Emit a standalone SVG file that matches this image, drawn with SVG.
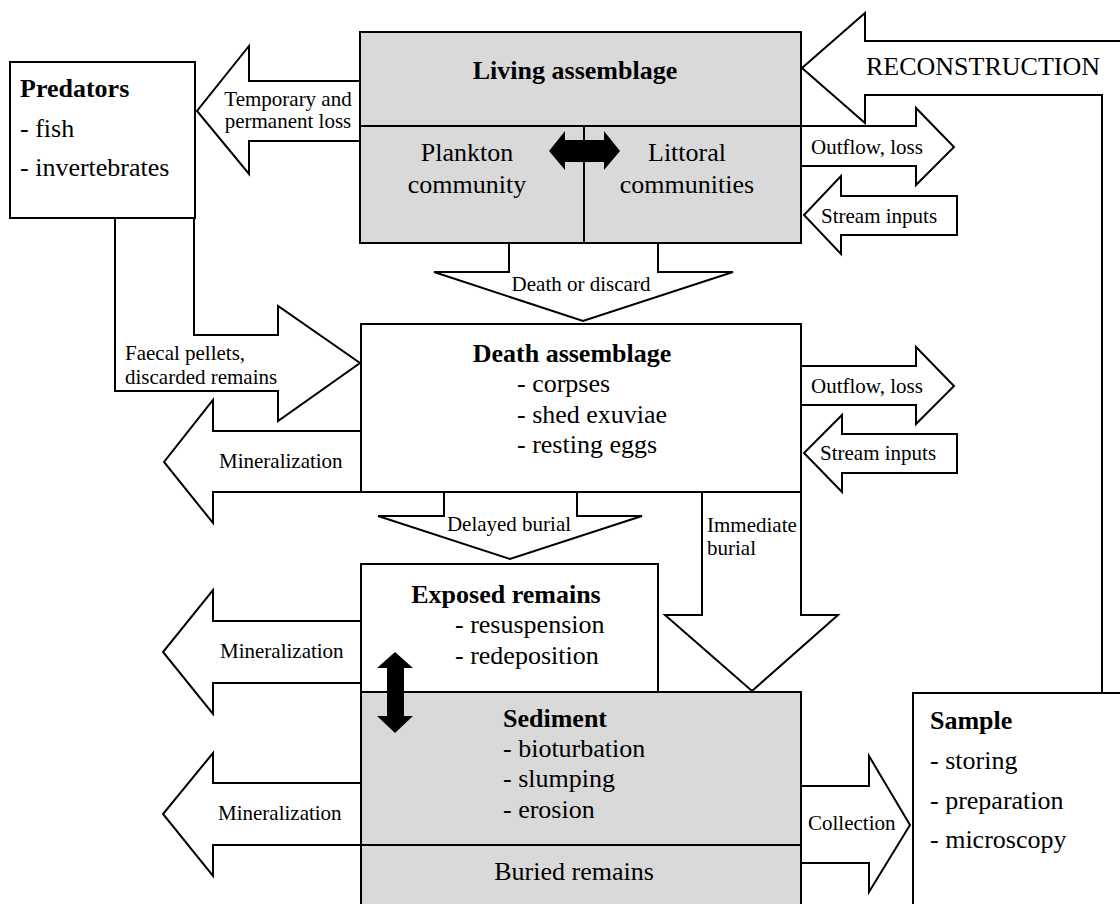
<svg xmlns="http://www.w3.org/2000/svg" width="1120" height="904" viewBox="0 0 1120 904">
<style>
  .box { stroke: #000; stroke-width: 2; }
  .gray { fill: #d9d9d9; }
  .white { fill: #fff; }
  .ln { stroke: #000; stroke-width: 2; fill: none; }
  .arr { fill: #fff; stroke: #000; stroke-width: 2; stroke-linejoin: miter; }
  .dbl { fill: #000; stroke: none; }
  .t { font-family: "Liberation Serif", "Times New Roman", serif; font-size: 26px; fill: #000; }
  .b { font-weight: bold; }
  .s { font-family: "Liberation Serif", "Times New Roman", serif; font-size: 21px; fill: #000; }
  .m { text-anchor: middle; }
</style>
<rect x="0" y="0" width="1120" height="904" fill="#fff"/>

<g id="connectors">
  <!-- Reconstruction (Sample -> Living) -->
  <polygon class="arr" points="1130,41 865,41 865,13 802,68 865,123 865,95 1102,95 1102,693 1130,693"/>
  <text class="t" x="866" y="75">RECONSTRUCTION</text>
  <!-- Living -> Predators -->
  <polygon class="arr" points="360,81 249,81 249,46 197,111 249,174 249,141 360,141"/>
  <text class="s m" x="288" y="106">Temporary and</text>
  <text class="s m" x="288" y="128">permanent loss</text>
  <!-- Living outflow / inputs -->
  <polygon class="arr" points="801,126 916,126 916,108 954,147 916,185 916,166 801,166"/>
  <text class="s" x="811" y="154">Outflow, loss</text>
  <polygon class="arr" points="957,196 841,196 841,176 804,215 841,254 841,235 957,235"/>
  <text class="s" x="821" y="223">Stream inputs</text>
  <!-- Living -> Death -->
  <polygon class="arr" points="509,243 658,243 658,272 733,272 583,321 434,272 509,272"/>
  <text class="s m" x="581" y="291">Death or discard</text>
  <!-- Predators -> Death -->
  <polygon class="arr" points="115,218 194,218 194,335 278,335 278,306 360,363 278,421 278,391 115,391"/>
  <text class="s" x="125" y="360">Faecal pellets,</text>
  <text class="s" x="125" y="384">discarded remains</text>
  <!-- Death outflow / inputs -->
  <polygon class="arr" points="801,366 916,366 916,347 954,386 916,424 916,405 801,405"/>
  <text class="s" x="811" y="393">Outflow, loss</text>
  <polygon class="arr" points="957,434 842,434 842,415 804,453 842,492 842,473 957,473"/>
  <text class="s" x="820" y="460">Stream inputs</text>
  <!-- Mineralization arrows -->
  <polygon class="arr" points="361,431 213,431 213,400 164,462 213,523 213,492 361,492"/>
  <text class="s" x="219" y="468">Mineralization</text>
  <polygon class="arr" points="361,621 213,621 213,590 163,652 213,714 213,683 361,683"/>
  <text class="s" x="220" y="658">Mineralization</text>
  <polygon class="arr" points="361,783 213,783 213,753 163,814 213,876 213,845 361,845"/>
  <text class="s" x="218" y="820">Mineralization</text>
  <!-- Delayed burial -->
  <polygon class="arr" points="444,492 577,492 577,516 642,516 510,559 378,516 444,516"/>
  <text class="s m" x="509" y="531">Delayed burial</text>
  <!-- Immediate burial -->
  <polygon class="arr" points="702,492 801,492 801,615 838,615 752,691 665,615 702,615"/>
  <text class="s" x="707" y="532">Immediate</text>
  <text class="s" x="707" y="555">burial</text>
  <!-- Collection -->
  <polygon class="arr" points="801,786 869,786 869,756 910,825 869,892 869,863 801,863"/>
  <text class="s" x="808" y="830">Collection</text>
</g>

<g id="predators">
  <rect class="box white" x="10" y="62" width="185" height="156"/>
  <text class="t b" x="20" y="97">Predators</text>
  <text class="t" x="20" y="137">- fish</text>
  <text class="t" x="20" y="176">- invertebrates</text>
</g>

<g id="living">
  <rect class="box gray" x="360" y="32" width="441" height="211"/>
  <line class="ln" x1="360" y1="126" x2="801" y2="126"/>
  <line class="ln" x1="584" y1="126" x2="584" y2="243"/>
  <text class="t b m" x="575" y="79">Living assemblage</text>
  <text class="t m" x="467" y="161">Plankton</text>
  <text class="t m" x="467" y="193">community</text>
  <text class="t m" x="687" y="161">Littoral</text>
  <text class="t m" x="687" y="193">communities</text>
  <polygon class="dbl" points="549,151 565,131 565,140 604,140 604,131 620,151 604,170 604,162 565,162 565,170"/>
</g>

<g id="death">
  <rect class="box white" x="361" y="324" width="440" height="168"/>
  <text class="t b m" x="572" y="362">Death assemblage</text>
  <text class="t" x="517" y="392">- corpses</text>
  <text class="t" x="517" y="423">- shed exuviae</text>
  <text class="t" x="517" y="453">- resting eggs</text>
</g>

<g id="exposed">
  <rect class="box white" x="361" y="564" width="297" height="128"/>
  <text class="t b m" x="506" y="603">Exposed remains</text>
  <text class="t" x="455" y="633">- resuspension</text>
  <text class="t" x="455" y="664">- redeposition</text>
</g>

<g id="sediment">
  <rect class="box gray" x="361" y="692" width="440" height="230"/>
  <line class="ln" x1="361" y1="845" x2="801" y2="845"/>
  <text class="t b" x="503" y="727">Sediment</text>
  <text class="t" x="503" y="757">- bioturbation</text>
  <text class="t" x="503" y="787">- slumping</text>
  <text class="t" x="503" y="818">- erosion</text>
  <text class="t m" x="574" y="880">Buried remains</text>
</g>

<g id="exchange">
  <polygon class="dbl" points="395,652 413,668 404,668 404,716 413,716 395,733 377,716 387,716 387,668 377,668"/>
</g>

<g id="sample">
  <rect class="box white" x="913" y="693" width="220" height="230"/>
  <text class="t b" x="930" y="729">Sample</text>
  <text class="t" x="930" y="769">- storing</text>
  <text class="t" x="930" y="809">- preparation</text>
  <text class="t" x="930" y="848">- microscopy</text>
</g>
</svg>
